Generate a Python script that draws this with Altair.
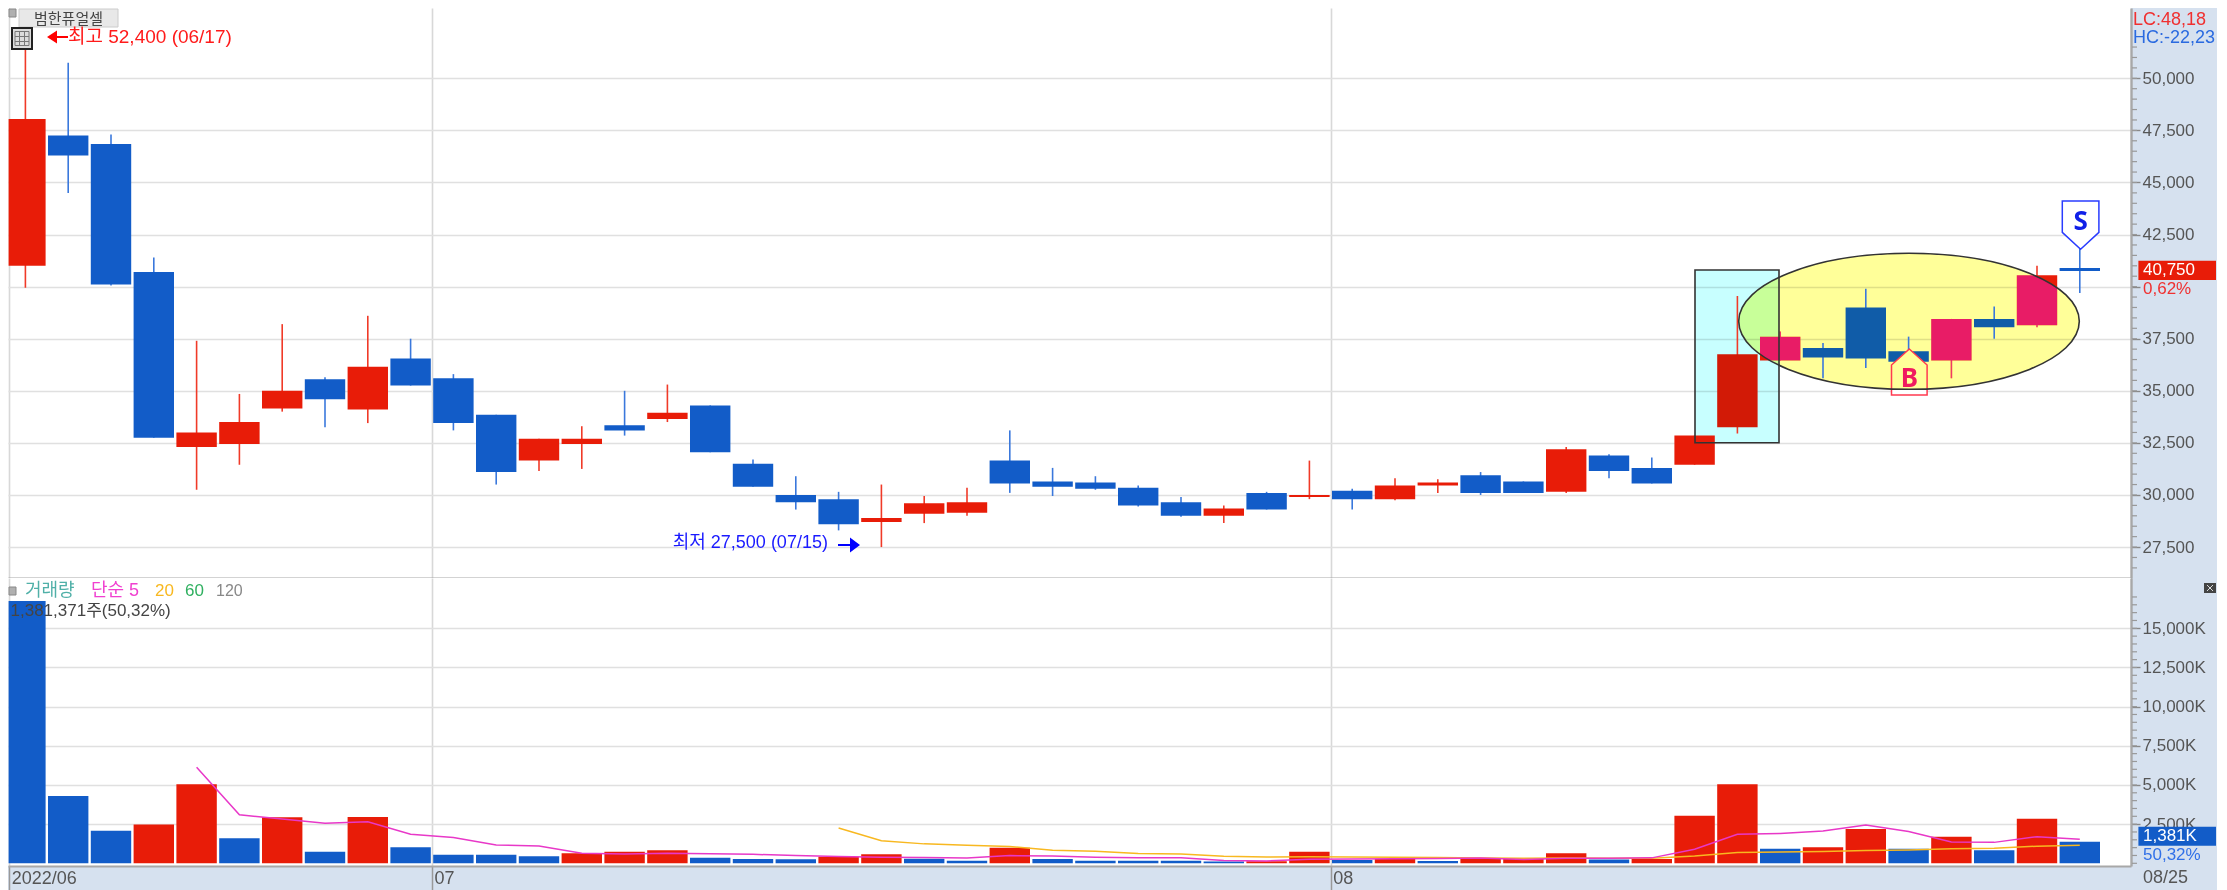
import altair as alt
import pandas as pd

# ---------- data ----------
opens  = [41000,47250,46850,40700,32300,32450,34150,35550,34100,36550,35600,33850,31650,32450,33350,33650,34300,31500,30000,29800,28700,29100,29150,31650,30650,30600,30350,29650,29000,30100,29900,30200,29800,30450,30950,30650,30150,31900,31300,31450,33250,36450,37050,39000,36900,36450,38450,38150,40900]
highs  = [52400,50750,47300,41400,37400,34850,38200,35650,38600,37500,35800,33850,32700,33300,35000,35300,34300,31700,30900,30150,30500,29950,30350,33100,31300,30900,30450,29900,29500,30150,31650,30300,30800,30750,31100,30650,32300,31950,31800,32850,39550,37850,37300,39900,37600,38450,39050,41000,41850]
lows   = [39950,44500,40050,32750,30250,31450,34000,33250,33450,35250,33100,30500,31150,31250,32850,33500,32050,30400,29300,28300,27500,28650,29000,30100,29950,30250,29450,28950,28650,29300,29800,29300,29750,30100,30000,30100,30100,30800,30550,31450,32950,36450,35600,36100,36400,35600,37500,38050,39700]
closes = [48050,46300,40100,32750,33000,33500,35000,34600,36150,35250,33450,31100,32700,32700,33100,33950,32050,30400,29650,28600,28900,29600,29650,30550,30400,30300,29500,29000,29350,29300,30000,29800,30450,30600,30100,30100,32200,31150,30550,32850,36750,37600,36600,36550,36400,38450,38050,40550,40750]
volumes = [16750,4300,2085,2470,5043,1596,2937,745,2950,1021,553,553,447,640,745,830,362,277,255,425,575,298,170,1000,277,170,170,165,110,130,745,210,277,150,277,290,640,250,277,3043,5043,936,1021,2192,936,1702,830,2851,1381]
ma5  = [6130,3100,2826,2558,2654,1850,1641,1164,1105,643,588,643,605,571,494,430,379,366,345,494,464,383,357,356,178,149,264,272,294,302,332,241,327,321,347,900,1851,1910,2064,2447,2026,1357,1336,1702,1540]
ma20 = [2249,1440,1240,1145,1071,833,762,623,594,452,408,417,400,392,367,344,317,331,329,330,461,685,717,759,819,852,928,961,1096,1159]
price_ticks = [27500,30000,32500,35000,37500,40000,42500,45000,47500,50000]
volume_ticks = [2500,5000,7500,10000,12500,15000]
price_minor = list(range(26500, 52000, 500))
volume_minor = list(range(0, 17500, 500))
month_breaks = [9.5, 30.5]
tone_override = {40: "#d21a06", 42: "#105ca8", 43: "#105ca8", 44: "#105ca8", 46: "#105ca8"}

RED, BLUE = "#e81c08", "#125cc8"
RED_W, BLUE_W = "#f03a28", "#3a78dc"
PLAIN = "Liberation Sans, Noto Sans CJK KR"

# annotation anchors: screen position -> data space
def X(p): return (p - 25.4) / 42.8
def P(y): return 50000 - (y - 78.3) * 48
def V(y): return (863.3 - y) * 63.83

xscale = alt.Scale(domain=[X(8), X(2131)], nice=False, zero=False)
pscale = alt.Scale(domain=[P(578), P(8)], nice=False, zero=False)
vscale = alt.Scale(domain=[V(866), V(578)], nice=False, zero=False)

grid_v = dict(grid=True, gridColor="#d8d8d8", gridWidth=1.6, title=None)
x_top = alt.Axis(values=[X(8) + 0.03] + month_breaks, labels=False, ticks=False,
                 domain=True, domainColor="#a8a8a8", domainWidth=2, **grid_v)
x_bot = alt.Axis(values=[X(8) + 0.03] + month_breaks, tickSize=24, tickColor="#999999", tickWidth=1.5,
                 domain=True, domainColor="#a8a8a8", domainWidth=2, labelAlign="left", labelBaseline="top",
                 labelPadding=-21, labelOffset=2, labelFlush=False, labelOverlap=False, labelBound=False,
                 labelFont=PLAIN, labelFontSize=18, labelColor="#555555",
                 labelExpr="datum.value<0?'2022/06':datum.value<10?'07':'08'", **grid_v)
y_common = dict(orient="right", tickSize=9, tickColor="#888888", tickWidth=1.4, domain=True,
                domainColor="#a8a8a8", domainWidth=2.4, grid=True, gridColor="#e0e0e0", gridWidth=1.6,
                labelFont=PLAIN, labelFontSize=17, labelColor="#555555", labelPadding=2,
                labelOverlap=False, labelBound=False, labelFlush=False, title=None)
y_price = alt.Axis(values=price_ticks, labelExpr="datum.value==40000?'':format(datum.value,',')", **y_common)
y_vol = alt.Axis(values=volume_ticks, labelExpr="format(datum.value,',')+'K'", **y_common)


def ex(f, axis): return alt.X(f + ":Q", scale=xscale, axis=axis)
def ey(f, s, axis): return alt.Y(f + ":Q", scale=s, axis=axis)


def texts(rows, ym, s, xa, ya, align="left", weight="normal", font=PLAIN):
    df = pd.DataFrame(rows, columns=["px", "py", "label", "col", "fs"])
    df["x"] = df.px.map(X)
    df["y"] = df.py.map(ym)
    return alt.Chart(df).mark_text(align=align, baseline="middle", font=font, fontWeight=weight).encode(
        x=ex("x", xa), y=ey("y", s, ya), text="label:N",
        color=alt.Color("col:N", scale=None), size=alt.Size("fs:Q", scale=None))


def box(x0, x1, y0, y1, ym, s, xa, ya, **mk):
    df = pd.DataFrame({"a": [X(x0)], "b": [X(x1)], "c": [ym(y0)], "d": [ym(y1)]})
    return alt.Chart(df).mark_rect(**mk).encode(x=ex("a", xa), x2="b:Q", y=ey("c", s, ya), y2="d:Q")


def glyph(px, py, path, size, ym, s, xa, ya, **mk):
    df = pd.DataFrame({"a": [X(px)], "c": [ym(py)]})
    return alt.Chart(df).mark_point(shape=path, size=size, **mk).encode(x=ex("a", xa), y=ey("c", s, ya))


# ---------- price panel ----------
n = len(opens)
half = 0.472
cd = pd.DataFrame({"i": range(n), "o": opens, "h": highs, "l": lows, "c": closes})
cd["up"] = cd.c > cd.o
cd["top"] = cd[["o", "c"]].max(axis=1)
cd["bot"] = cd[["o", "c"]].min(axis=1)
cd["xl"] = (cd.i - half).clip(lower=X(8.6))
cd["xr"] = cd.i + half
cd["body"] = [tone_override.get(i, RED if u else BLUE) for i, u in zip(cd.i, cd.up)]
cd["wick"] = [RED_W if u else BLUE_W for u in cd.up]

E = "M-1,0C-1,-.2205 -.5523,-.3993 0,-.3993C.5523,-.3993 1,-.2205 1,0C1,.2205 .5523,.3993 0,.3993C-.5523,.3993 -1,.2205 -1,0Z"
E_SIZE = (2 * 170.3) ** 2
ex_c, ey_c = 1909, 321.3
HOUSE = "M0,0L.89,.8V2.3H-.89V.8Z"
STRIP = "M-.89,2.05H.89V2.3H-.89Z"
SHIELD = "M0,0L.915,-.85V-2.415H-.915V-.85Z"
UNIT20 = 1600

xa, ya, s, ym = x_top, y_price, pscale, P
pm = pd.DataFrame({"y": price_minor, "a": X(2132), "b": X(2137)})
price_layers = [
    box(1695, 1779, 270, 442.7, ym, s, xa, ya, color="#c8ffff", blend="multiply"),
    glyph(ex_c, ey_c, E, E_SIZE, ym, s, xa, ya, filled=True, color="#ffff99", opacity=1, blend="multiply"),
    alt.Chart(pm).mark_rule(color="#999999", strokeWidth=1.2).encode(x=ex("a", xa), x2="b:Q", y=ey("y", s, ya)),
    alt.Chart(cd).mark_rule(strokeWidth=1.6).encode(
        x=ex("i", xa), y=ey("h", s, ya), y2="l:Q", color=alt.Color("wick:N", scale=None)),
    alt.Chart(cd).mark_rect().encode(
        x=ex("xl", xa), x2="xr:Q", y=ey("top", s, ya), y2="bot:Q", color=alt.Color("body:N", scale=None)),
    glyph(ex_c, ey_c, E, E_SIZE, ym, s, xa, ya, filled=True, color="#000066", opacity=1, blend="lighten"),
    box(1695, 1779, 270, 442.7, ym, s, xa, ya, fillOpacity=0, stroke="#333333", strokeWidth=1.6),
    # B marker
    glyph(1909.3, 349, HOUSE, UNIT20, ym, s, xa, ya, filled=True, color="#ffff99", opacity=1),
    glyph(1909.3, 349, STRIP, UNIT20, ym, s, xa, ya, filled=True, color="#ffffff", opacity=1),
    glyph(1909.3, 349, HOUSE, UNIT20, ym, s, xa, ya, filled=False, color="#ff3a50", opacity=1, strokeWidth=1.5),
    glyph(ex_c, ey_c, E, E_SIZE, ym, s, xa, ya, filled=False, color="#333333", opacity=1, strokeWidth=1.6),
    texts([(1909.3, 379, "B", "#f01a60", 26)], ym, s, xa, ya, align="center", weight="bold", font="Noto Sans"),
    # S marker
    glyph(2080.6, 249.3, SHIELD, UNIT20, ym, s, xa, ya, filled=True, fill="#ffffff", stroke="#2a3cff", opacity=1, strokeWidth=1.5),
    texts([(2080.6, 222, "S", "#1020e8", 26)], ym, s, xa, ya, align="center", weight="bold", font="Noto Sans"),
    # top-left furniture
    box(9, 16, 9, 17, ym, s, xa, ya, color="#b0b0b0", stroke="#888888"),
    box(19, 118, 9, 27, ym, s, xa, ya, color="#e8e8e8", stroke="#cccccc"),
    texts([(68.5, 18.5, "범한퓨얼셀", "#444444", 15)], ym, s, xa, ya, align="center", font="Noto Sans CJK KR"),
    box(12, 32, 28, 49, ym, s, xa, ya, color="#dcdcdc", stroke="#222222", strokeWidth=2),
    glyph(22, 38.5, "M-.7,-.7H.7V.7H-.7ZM-.25,-.7V.7M.25,-.7V.7M-.7,-.2H.7M-.7,.3H.7", 400, ym, s, xa, ya,
          filled=False, color="#777777", opacity=1, strokeWidth=1),
    glyph(57.5, 37, "M-1.05,0L-.05,-.65V-.1H1.05V.1H-.05V.65Z", 400, ym, s, xa, ya, filled=True, color="#ff0000", opacity=1),
    glyph(849, 545, "M1.1,0L.1,-.75V-.1H-1.1V.1H.1V.75Z", 400, ym, s, xa, ya, filled=True, color="#0000ff", opacity=1),
    texts([(68, 37, "최고 52,400 (06/17)", "#ff1a1a", 19),
           (672.7, 543, "최저 27,500 (07/15)", "#1a1aff", 18)], ym, s, xa, ya),
    # right strip
    box(2138.4, 2216, 260.7, 280, ym, s, xa, ya, color=RED),
    texts([(2133, 20, "LC:48,18", "#f03030", 18),
           (2133, 38, "HC:-22,23", "#2a6ae0", 18),
           (2143, 270, "40,750", "#ffffff", 17),
           (2143, 289, "0,62%", "#f03030", 17)], ym, s, xa, ya),
]
price_panel = alt.layer(*price_layers).properties(width=2123, height=570)

# ---------- volume panel ----------
vd = pd.DataFrame({"i": range(n), "v": volumes})
vd["xl"] = (vd.i - half).clip(lower=X(8.6))
vd["xr"] = vd.i + half
vd["col"] = [BLUE] + [RED if volumes[k] > volumes[k - 1] else BLUE for k in range(1, n)]
d5 = pd.DataFrame({"i": range(4, n), "v": ma5})
d20 = pd.DataFrame({"i": range(19, n), "v": ma20})

xa, ya, s, ym = x_bot, y_vol, vscale, V
vm = pd.DataFrame({"y": volume_minor, "a": X(2132), "b": X(2137)})
volume_layers = [
    alt.Chart(vm).mark_rule(color="#999999", strokeWidth=1.2).encode(x=ex("a", xa), x2="b:Q", y=ey("y", s, ya)),
    alt.Chart(vd).mark_rect().encode(x=ex("xl", xa), x2="xr:Q", y=ey("v", s, ya), y2=alt.datum(0),
                                     color=alt.Color("col:N", scale=None)),
    alt.Chart(d20).mark_line(color="#f8b820", strokeWidth=1.5).encode(x=ex("i", xa), y=ey("v", s, ya)),
    alt.Chart(d5).mark_line(color="#e838c8", strokeWidth=1.5).encode(x=ex("i", xa), y=ey("v", s, ya)),
    box(9, 16, 587, 595, ym, s, xa, ya, color="#b0b0b0", stroke="#888888"),
    texts([(25, 591, "거래량", "#50b0a8", 18),
           (91, 591, "단순 5", "#f040d0", 18),
           (155, 591, "20", "#f8b820", 17),
           (185, 591, "60", "#30b060", 17),
           (216, 591, "120", "#888888", 16),
           (10.5, 611, "1,381,371주(50,32%)", "#444444", 17)], ym, s, xa, ya),
    box(2138.4, 2216, 826.7, 845.7, ym, s, xa, ya, color=BLUE),
    texts([(2143, 836, "1,381K", "#ffffff", 17),
           (2143, 855, "50,32%", "#3070e8", 17),
           (2143, 878, "08/25", "#555555", 18)], ym, s, xa, ya),
    box(2204, 2216, 583, 593, ym, s, xa, ya, color="#444444"),
    glyph(2210, 588, "M-.6,.6L.6,-.6M-.6,-.6L.6,.6", 100, ym, s, xa, ya, filled=False, color="#dddddd", opacity=1, strokeWidth=1),
]
volume_panel = alt.layer(*volume_layers).properties(width=2123, height=288)

chart = (
    alt.vconcat(price_panel, volume_panel, spacing=0)
    .properties(background="#d6e1ef", padding=0)
    .configure_view(fill="white", stroke=None)
)
chart.save("out.html", embed_options={"renderer": "svg", "actions": False})
